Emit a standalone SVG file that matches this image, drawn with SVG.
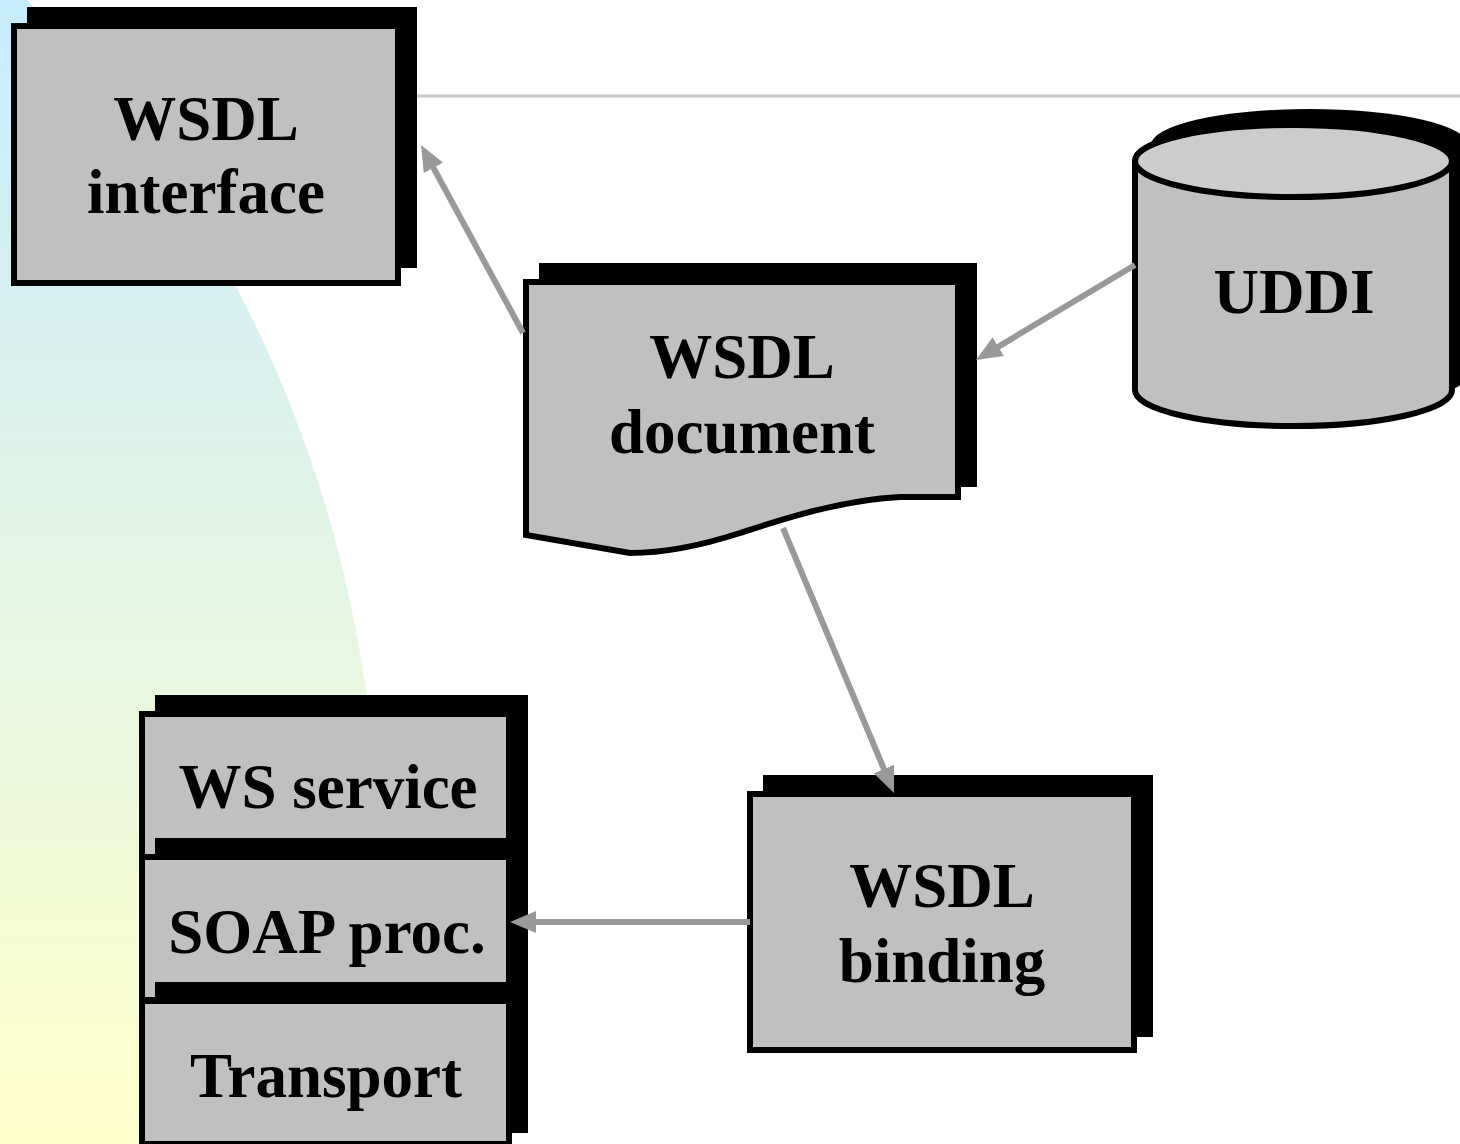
<svg xmlns="http://www.w3.org/2000/svg" width="1460" height="1144" viewBox="0 0 1460 1144">
<style>
.sh{fill:#000}
.box{fill:#c0c0c0;stroke:#000;stroke-width:6}
.lbl{font-family:"Liberation Serif","Times New Roman",serif;font-weight:bold;font-size:63px;fill:#000;text-anchor:middle}
.conn{stroke:#999;stroke-width:6;fill:none;marker-end:url(#ah)}
</style>
<defs>
<linearGradient id="bg" x1="0" y1="0" x2="0" y2="1144" gradientUnits="userSpaceOnUse">
<stop offset="0" stop-color="#c8ecfe"/>
<stop offset="1" stop-color="#ffffcc"/>
</linearGradient>
<marker id="ah" viewBox="0 0 26 22" markerWidth="26" markerHeight="22" refX="12" refY="11" markerUnits="userSpaceOnUse" orient="auto">
<path d="M0,0 L26,11 L0,22 Z" fill="#999"/>
</marker>
</defs>
<rect width="1460" height="1144" fill="#fff"/>
<path d="M0,0 H27 A1228 1228 0 0 1 344 1144 H0 Z" fill="url(#bg)"/>
<line x1="415" y1="96" x2="1460" y2="96" stroke="#c8c8c8" stroke-width="3"/>

<g id="wsdl-interface">
<rect class="sh" x="27" y="7" width="390" height="261"/>
<rect class="box" x="14" y="26" width="384" height="257"/>
<text class="lbl" x="206" y="140">WSDL</text>
<text class="lbl" x="206" y="213">interface</text>
</g>

<g id="wsdl-document">
<path class="sh" d="M539,263 H977 V487 H916 C856,484 796,504 756,517 C716,530 676,537 646,537 L539,519 Z"/>
<path class="box" d="M526,282 H958 V497 H900 C840,500 780,520 740,533 C700,546 660,553 630,553 L526,535 Z"/>
<text class="lbl" x="742" y="378">WSDL</text>
<text class="lbl" x="742" y="453">document</text>
</g>

<g id="uddi">
<path class="sh" d="M1151,145 A158.5 36 0 0 1 1468 145 V374 A158.5 36 0 0 1 1151 374 Z"/>
<path class="box" d="M1135,161 V390 A158.5 36 0 0 0 1452 390 V161"/>
<ellipse cx="1293.5" cy="161" rx="158.5" ry="36" fill="#cccccc" stroke="#000" stroke-width="6"/>
<text class="lbl" x="1294" y="313">UDDI</text>
</g>

<g id="wsdl-binding">
<rect class="sh" x="763" y="775" width="390" height="262"/>
<rect class="box" x="750" y="794" width="384" height="256"/>
<text class="lbl" x="942" y="907">WSDL</text>
<text class="lbl" x="942" y="982">binding</text>
</g>

<g id="ws-service">
<rect class="sh" x="155" y="695" width="373" height="149"/>
<rect class="box" x="142" y="714" width="367" height="143"/>
<text class="lbl" x="328" y="808">WS service</text>
</g>

<g id="soap-proc">
<rect class="sh" x="155" y="838" width="373" height="149"/>
<rect class="box" x="142" y="857" width="367" height="143"/>
<text class="lbl" x="327" y="953">SOAP proc.</text>
</g>

<g id="transport">
<rect class="sh" x="155" y="982" width="373" height="151"/>
<rect class="box" x="142" y="1001" width="367" height="143"/>
<text class="lbl" x="326" y="1097">Transport</text>
</g>

<g id="connectors">
<line class="conn" x1="523" y1="333" x2="427.7" y2="157.3"/>
<line class="conn" x1="1135" y1="265" x2="988" y2="352.8"/>
<line class="conn" x1="783" y1="528" x2="888.6" y2="780.1"/>
<line class="conn" x1="750" y1="922" x2="524" y2="922"/>
</g>
</svg>
